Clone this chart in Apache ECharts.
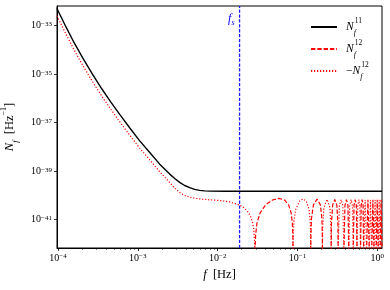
<!DOCTYPE html>
<html><head><meta charset="utf-8">
<script src="https://cdn.jsdelivr.net/npm/echarts@6/dist/echarts.min.js"></script>
<style>html,body{margin:0;padding:0;background:#fff}#c{width:390px;height:290px}</style>
</head><body><div id="c"></div>
<script>
// ---- data ----
const freqN11 = [9.7e-5, 1.26e-4, 1.58e-4, 2.04e-4, 2.7e-4, 3.55e-4, 4.57e-4, 5.93e-4, 7.94e-4, 1.05e-3, 1.41e-3, 1.88e-3, 2.51e-3, 2.9e-3, 3.34e-3, 3.86e-3, 4.46e-3, 5.15e-3, 5.94e-3, 6.87e-3, 7.94e-3, 1.26e-2, 1.143];
const valN11 = [5.1e-33, 8.9e-34, 2.09e-34, 4.68e-35, 1.0e-35, 2.45e-36, 7.24e-37, 2.19e-37, 6.03e-38, 1.82e-38, 5.89e-39, 1.95e-39, 7.59e-40, 5.01e-40, 3.47e-40, 2.57e-40, 2.09e-40, 1.78e-40, 1.62e-40, 1.55e-40, 1.50e-40, 1.49e-40, 1.48e-40];

const freqN12 = [
  9.7e-5, 1.26e-4, 1.58e-4, 2.04e-4, 2.7e-4, 3.55e-4, 4.57e-4, 5.93e-4, 7.94e-4, 1.05e-3, 1.41e-3, 1.88e-3, 2.51e-3, 2.9e-3, 3.34e-3, 3.86e-3, 4.46e-3, 5.15e-3, 5.94e-3, 6.87e-3, 7.94e-3, 1.06e-2, 1.41e-2, 1.88e-2, 2.11e-2, 2.37e-2, 2.58e-2, 2.73e-2, 2.83e-2, 2.90e-2,
  0.0293,
  0.02989, 0.03106, 0.03399, 0.03985, 0.04864, 0.0586, 0.06856, 0.07735, 0.08321, 0.08614, 0.08731,
  0.0879,
  0.08849, 0.09024, 0.09493, 0.10548, 0.1172, 0.12892, 0.13947, 0.14416, 0.14591,
  0.1465,
  0.14709, 0.14943, 0.15822, 0.1758, 0.19338, 0.20217, 0.20451,
  0.2051,
  0.20627, 0.21389, 0.2344, 0.25491, 0.26253,
  0.2637,
  0.26546, 0.27542, 0.293, 0.31058, 0.32054,
  0.3223,
  0.3340, 0.3516, 0.3692,
  0.3809,
  0.3926, 0.4102, 0.4278,
  0.4395,
  0.4512, 0.4688, 0.4864,
  0.4981,
  0.5098, 0.5274, 0.5450,
  0.5567,
  0.5684, 0.5860, 0.6036,
  0.6153,
  0.6270, 0.6446, 0.6622,
  0.6739, 0.7032, 0.7325, 0.7618, 0.7911, 0.8204, 0.8497, 0.879, 0.9083, 0.9376, 0.9669, 0.9962, 1.0255, 1.0548, 1.0841, 1.1134, 1.1427
];
const valN12 = [
  -2.57e-33, -4.47e-34, -1.05e-34, -2.34e-35, -5.01e-36, -1.23e-36, -3.63e-37, -1.10e-37, -3.02e-38, -9.12e-39, -2.95e-39, -9.55e-40, -3.39e-40, -2.0e-40, -1.32e-40, -1.0e-40, -8.5e-41, -7.8e-41, -7.2e-41, -6.9e-41, -6.6e-41, -6.2e-41, -5.4e-41, -4.0e-41, -3.2e-41, -2.2e-41, -1.4e-41, -7.9e-42, -4.0e-42, -1.2e-42,
  0,
  2.4e-42, 7.2e-42, 1.9e-41, 4.1e-41, 6.5e-41, 7.6e-41, 6.5e-41, 4.1e-41, 1.9e-41, 7.2e-42, 2.4e-42,
  0,
  -2.3e-42, -9.0e-42, -2.65e-41, -5.8e-41, -7.2e-41, -5.8e-41, -2.65e-41, -9.0e-42, -2.3e-42,
  0,
  2.2e-42, 1.1e-41, 4.1e-41, 7.0e-41, 4.1e-41, 1.1e-41, 2.2e-42,
  0,
  -4.3e-42, -3.1e-41, -6.9e-41, -3.1e-41, -4.3e-42,
  0,
  6.4e-42, 4.0e-41, 6.8e-41, 4.0e-41, 6.4e-42,
  0,
  -3.9e-41, -6.7e-41, -3.9e-41,
  0,
  3.9e-41, 6.7e-41, 3.9e-41,
  0,
  -3.9e-41, -6.7e-41, -3.9e-41,
  0,
  3.9e-41, 6.7e-41, 3.9e-41,
  0,
  -3.9e-41, -6.7e-41, -3.9e-41,
  0,
  3.9e-41, 6.7e-41, 3.9e-41,
  0, -6.7e-41, 0, 6.7e-41, 0, -6.7e-41, 0, 6.7e-41, 0, -6.7e-41, 0, 6.7e-41, 0, -6.7e-41, 0, 6.7e-41, 0
];
const fS = 0.0188;
const xTickExp = [-4, -3, -2, -1, 0];
const yTickExp = [-41, -39, -37, -35, -33];
const xRange = [9.72e-5, 1.143];
const yRange = [6.8e-43, 6.5e-33];
const seriesNames = ['N11', 'N12', '-N12'];

// ---- build ----
const L = Math.log10;
const xMin = L(xRange[0]), xMax = L(xRange[1]);
const yMin = L(yRange[0]), yMax = L(yRange[1]);
const yBelow = yMin - 0.15;
const n11Data = freqN11.map((f, i) => [L(f), L(valN11[i])]);
const posData = freqN12.map((f, i) => { const v = valN12[i]; return [L(f), v > 0 ? L(v) : (v === 0 ? yBelow : '-')]; });
const negData = freqN12.map((f, i) => { const v = valN12[i]; return [L(f), v < 0 ? L(-v) : (v === 0 ? yBelow : '-')]; });
const fsData = [[L(fS), yMin], [L(fS), yMax]];
const minorX = [];
for (let n = -5; n <= 0; n++) for (let k = 2; k <= 9; k++) { const v = L(k) + n; if (v > xMin && v < xMax) minorX.push(v); }

const SERIF = 'Liberation Serif';
const sup = n => String(n).replace('-', '\u2212');
const tickRich = {
  b: { fontFamily: SERIF, fontSize: 10, color: '#000', lineHeight: 10, verticalAlign: 'bottom' },
  e: { fontFamily: SERIF, fontSize: 7, color: '#000', lineHeight: 9, verticalAlign: 'top' }
};
const legRich = {
  m: { fontFamily: SERIF, fontSize: 11.5, color: '#000', lineHeight: 20, verticalAlign: 'middle' },
  n: { fontFamily: SERIF, fontSize: 11.5, fontStyle: 'italic', color: '#000', lineHeight: 20, verticalAlign: 'middle' },
  f: { fontFamily: SERIF, fontSize: 8, fontStyle: 'italic', color: '#000', lineHeight: 13, verticalAlign: 'bottom', width: 1 },
  s: { fontFamily: SERIF, fontSize: 7.5, color: '#000', lineHeight: 12, verticalAlign: 'top' }
};
const legLabels = { 'N11': '{n|N}{f|f}{s|11}', 'N12': '{n|N}{f|f}{s|12}', '-N12': '{m|\u2212}{n|N}{f|f}{s|12}' };

const chart = echarts.init(document.getElementById('c'), null, { renderer: 'canvas' });
chart.setOption({
  animation: false,
  backgroundColor: '#fff',
  grid: { left: 57, right: 8, top: 6, bottom: 42, containLabel: false, outerBoundsMode: 'none',
    show: true, borderColor: '#000', borderWidth: 1, backgroundColor: 'transparent' },
  xAxis: [{
    type: 'value', min: xMin, max: xMax,
    axisLine: { show: true, onZero: false, lineStyle: { color: '#000', width: 1 } },
    axisTick: { show: true, customValues: xTickExp, length: 3, lineStyle: { color: '#000', width: 0.8 } },
    axisLabel: { customValues: xTickExp, margin: 5, formatter: v => '{b|10}{e|' + sup(Math.round(v)) + '}', rich: tickRich },
    splitLine: { show: false },
    name: '{f|f}{t|  [Hz]}', nameLocation: 'middle', nameGap: 20,
    nameTextStyle: { rich: {
      f: { fontFamily: SERIF, fontStyle: 'italic', fontSize: 12.5, color: '#000' },
      t: { fontFamily: SERIF, fontSize: 12.5, color: '#000' } } }
  }, {
    type: 'value', min: xMin, max: xMax, position: 'bottom',
    axisLine: { show: false }, axisLabel: { show: false }, splitLine: { show: false },
    axisTick: { show: true, customValues: minorX, length: 1.8, lineStyle: { color: '#000', width: 0.6 } }
  }],
  yAxis: {
    type: 'value', min: yMin, max: yMax,
    axisLine: { show: true, onZero: false, lineStyle: { color: '#000', width: 1 } },
    axisTick: { show: true, customValues: yTickExp, length: 3, lineStyle: { color: '#000', width: 0.8 } },
    axisLabel: { customValues: yTickExp, margin: 5, formatter: v => '{b|10}{e|' + sup(Math.round(v)) + '}', rich: tickRich },
    splitLine: { show: false },
    name: '{n|N}{f|f}{t|  [Hz}{s|\u22121}{t|]}', nameLocation: 'middle', nameRotate: 90, nameGap: 36,
    nameTextStyle: { rich: {
      n: { fontFamily: SERIF, fontStyle: 'italic', fontSize: 12.5, color: '#000', lineHeight: 20, verticalAlign: 'middle' },
      f: { fontFamily: SERIF, fontStyle: 'italic', fontSize: 8.5, color: '#000', lineHeight: 12, verticalAlign: 'bottom' },
      t: { fontFamily: SERIF, fontSize: 12.5, color: '#000', lineHeight: 20, verticalAlign: 'middle' },
      s: { fontFamily: SERIF, fontSize: 8, color: '#000', lineHeight: 12, verticalAlign: 'top' } } }
  },
  legend: {
    data: seriesNames, orient: 'vertical', left: 305, top: 12, itemWidth: 26, itemHeight: 12, itemGap: 2,
    selectedMode: false, formatter: n => legLabels[n], itemStyle: { opacity: 0 },
    textStyle: { padding: [0, 0, 0, 4], rich: legRich }
  },
  series: [{
    name: 'fs', type: 'line', data: fsData, symbol: 'none', z: 2, silent: true,
    color: '#1a1aff', lineStyle: { color: '#1a1aff', width: 1.3, type: [3.3, 1.6] }
  }, {
    name: 'N11', type: 'line', data: n11Data, symbol: 'none', z: 4,
    color: '#000', lineStyle: { color: '#000', width: 1.4 }
  }, {
    name: 'N12', type: 'line', data: posData, symbol: 'none', z: 3,
    color: '#ff0000', lineStyle: { color: '#ff0000', width: 1.2, type: [4.4, 1.9] }
  }, {
    name: '-N12', type: 'line', data: negData, symbol: 'none', z: 3,
    color: '#ff0000', lineStyle: { color: '#ff0000', width: 1.2, type: [1.2, 1.8] }
  }]
});
const px = chart.convertToPixel({ xAxisIndex: 0 }, L(fS));
chart.setOption({ graphic: [{
  type: 'text', x: px - 5, y: 19, silent: true,
  style: { text: '{f|f}{s|s}', align: 'right', verticalAlign: 'middle', rich: {
    f: { fontFamily: SERIF, fontStyle: 'italic', fontSize: 12, fill: '#0000ff', lineHeight: 16, verticalAlign: 'middle' },
    s: { fontFamily: SERIF, fontStyle: 'italic', fontSize: 8, fill: '#0000ff', lineHeight: 10, verticalAlign: 'bottom' } } }
}] });
</script></body></html>
